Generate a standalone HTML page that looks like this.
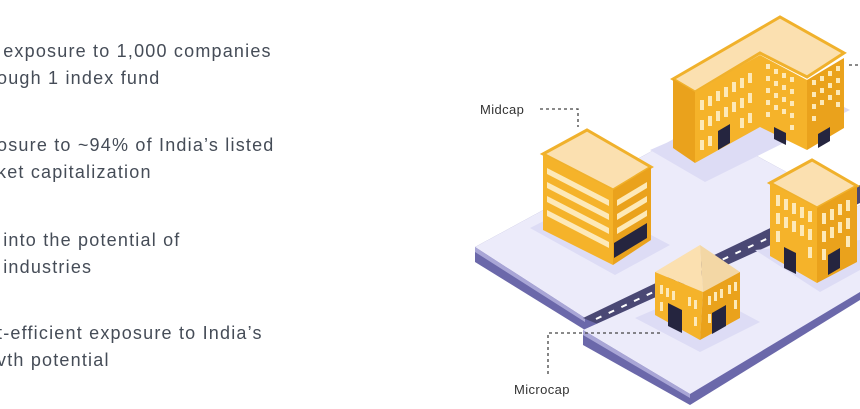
<!DOCTYPE html>
<html><head><meta charset="utf-8"><style>
html,body{margin:0;padding:0;background:#fff;width:860px;height:409px;overflow:hidden;position:relative}
.t{position:absolute;left:0;font-family:"Liberation Sans",sans-serif;font-size:18px;color:#454c57;line-height:27px;white-space:nowrap;letter-spacing:1.2px}
svg{position:absolute;left:0;top:0}
</style></head><body>
<div class="t" style="left:-3px;top:38px">&nbsp;exposure to 1,000 companies<br>ough 1 index fund</div>
<div class="t" style="left:-3px;top:132px">osure to ~94% of India’s listed<br>ket capitalization</div>
<div class="t" style="left:-3px;top:227px">&nbsp;into the potential of<br>&nbsp;industries</div>
<div class="t" style="left:-3px;top:320px">t-efficient exposure to India’s<br>vth potential</div>
<svg width="860" height="409" viewBox="0 0 860 409">
<polygon points="475,247 700,125 860,212 860,235 585,330 475,262" fill="#6b68aa"/>
<polygon points="475,247 700,125 860,212 860,222 585,318" fill="#ecebfa"/>
<polygon points="475,247 585,318 585,322 475,252" fill="#a9a6d6"/>
<polygon points="583,318 860,185 860,203 600,325" fill="#4a4874"/>
<g stroke="#fff" stroke-width="2" stroke-dasharray="6 8"><line x1="596" y1="319" x2="860" y2="195"/></g>
<polygon points="583,330 860,205 860,300 690,405 583,345" fill="#6b68aa"/>
<polygon points="583,330 860,205 860,292 690,394" fill="#ecebfa"/>
<polygon points="583,330 690,394 690,398 583,335" fill="#a9a6d6"/>
<polygon points="530,228 615,275 670,245 585,200" fill="#dddcf5"/>
<polygon points="650,150 705,182 850,110 800,85" fill="#dddcf5"/>
<polygon points="755,250 820,292 860,270 860,240" fill="#dddcf5"/>
<polygon points="635,318 700,352 760,322 700,290" fill="#dddcf5"/>
<polygon points="673,79 780,17 844,53 807,77 760,53 695,92" fill="#fbe0b0"/>
<polygon points="673,79 780,17 844,53 807,77 760,53 695,92" fill="none" stroke="#f0b12c" stroke-width="3"/>
<polygon points="673,79 695,92 695,163 673,148" fill="#eaa21c"/>
<polygon points="695,92 760,55 760,127 695,163" fill="#f5b32a"/>
<polygon points="760,55 807,80 807,150 760,127" fill="#f5b32a"/>
<polygon points="807,80 844,58 844,128 807,150" fill="#eaa21c"/>
<g fill="#fde9b8">
<rect x="700" y="100" width="4" height="10"/><rect x="708" y="96" width="4" height="10"/><rect x="716" y="91" width="4" height="10"/><rect x="724" y="87" width="4" height="10"/><rect x="732" y="82" width="4" height="10"/><rect x="740" y="78" width="4" height="10"/><rect x="748" y="73" width="4" height="10"/>
<rect x="700" y="120" width="4" height="10"/><rect x="708" y="116" width="4" height="10"/><rect x="716" y="111" width="4" height="10"/><rect x="724" y="107" width="4" height="10"/><rect x="732" y="102" width="4" height="10"/><rect x="740" y="98" width="4" height="10"/><rect x="748" y="93" width="4" height="10"/>
<rect x="700" y="140" width="4" height="10"/><rect x="708" y="136" width="4" height="10"/><rect x="740" y="118" width="4" height="10"/><rect x="748" y="113" width="4" height="10"/>
<rect x="766" y="64" width="4" height="5"/><rect x="774" y="69" width="4" height="5"/><rect x="782" y="73" width="4" height="5"/><rect x="790" y="77" width="4" height="5"/>
<rect x="766" y="76" width="4" height="5"/><rect x="774" y="81" width="4" height="5"/><rect x="782" y="85" width="4" height="5"/><rect x="790" y="89" width="4" height="5"/>
<rect x="766" y="88" width="4" height="5"/><rect x="774" y="93" width="4" height="5"/><rect x="782" y="97" width="4" height="5"/><rect x="790" y="101" width="4" height="5"/>
<rect x="766" y="100" width="4" height="5"/><rect x="774" y="105" width="4" height="5"/><rect x="782" y="109" width="4" height="5"/><rect x="790" y="113" width="4" height="5"/>
<rect x="766" y="112" width="4" height="5"/><rect x="790" y="125" width="4" height="5"/>
<rect x="812" y="80" width="4" height="5"/><rect x="820" y="76" width="4" height="5"/><rect x="828" y="71" width="4" height="5"/><rect x="836" y="66" width="4" height="5"/>
<rect x="812" y="92" width="4" height="5"/><rect x="820" y="88" width="4" height="5"/><rect x="828" y="83" width="4" height="5"/><rect x="836" y="78" width="4" height="5"/>
<rect x="812" y="104" width="4" height="5"/><rect x="820" y="100" width="4" height="5"/><rect x="828" y="95" width="4" height="5"/><rect x="836" y="90" width="4" height="5"/>
<rect x="812" y="116" width="4" height="5"/><rect x="836" y="102" width="4" height="5"/>
</g>
<polygon points="718,131 730,124 730,143 718,150" fill="#25253f"/>
<polygon points="774,127 786,133 786,145 774,139" fill="#25253f"/>
<polygon points="818,134 830,127 830,141 818,148" fill="#25253f"/>
<polygon points="543,154 587,130 651,167 613,190" fill="#fbe0b0" stroke="#f0b12c" stroke-width="3"/>
<polygon points="543,154 613,190 613,265 543,230" fill="#f5b32a"/>
<polygon points="613,190 651,167 651,240 613,265" fill="#eaa21c"/>
<g fill="#fde9b8">
<polygon points="547,168 609,200 609,206 547,174"/><polygon points="547,182 609,214 609,220 547,188"/><polygon points="547,196 609,228 609,234 547,202"/><polygon points="547,210 609,242 609,248 547,216"/>
<polygon points="617,200 647,182 647,188 617,206"/><polygon points="617,214 647,196 647,202 617,220"/><polygon points="617,228 647,210 647,216 617,234"/>
</g>
<polygon points="614,243 647,223 647,238 614,258" fill="#25253f"/>
<polygon points="770,183 812,160 857,186 817,208" fill="#fbe0b0" stroke="#f0b12c" stroke-width="3"/>
<polygon points="770,183 817,208 817,283 770,256" fill="#f5b32a"/>
<polygon points="817,208 857,186 857,262 817,283" fill="#eaa21c"/>
<g fill="#fde9b8">
<rect x="776" y="195" width="4" height="11"/><rect x="784" y="199" width="4" height="11"/><rect x="792" y="203" width="4" height="11"/><rect x="800" y="207" width="4" height="11"/><rect x="808" y="211" width="4" height="11"/>
<rect x="776" y="213" width="4" height="11"/><rect x="784" y="217" width="4" height="11"/><rect x="792" y="221" width="4" height="11"/><rect x="800" y="225" width="4" height="11"/><rect x="808" y="229" width="4" height="11"/>
<rect x="776" y="231" width="4" height="11"/><rect x="808" y="247" width="4" height="11"/>
<rect x="822" y="213" width="4" height="11"/><rect x="830" y="209" width="4" height="11"/><rect x="838" y="204" width="4" height="11"/><rect x="846" y="200" width="4" height="11"/>
<rect x="822" y="231" width="4" height="11"/><rect x="830" y="227" width="4" height="11"/><rect x="838" y="222" width="4" height="11"/><rect x="846" y="218" width="4" height="11"/>
<rect x="822" y="249" width="4" height="11"/><rect x="846" y="236" width="4" height="11"/>
</g>
<polygon points="784,247 796,253 796,274 784,268" fill="#25253f"/>
<polygon points="828,255 840,248 840,268 828,275" fill="#25253f"/>
<polygon points="655,272 700,245 703,292" fill="#fbe0b0"/>
<polygon points="700,245 740,272 703,292" fill="#f3d7a5"/>
<polygon points="655,272 703,292 700,340 655,315" fill="#f5b32a"/>
<polygon points="703,292 740,272 740,318 700,340" fill="#eaa21c"/>
<g fill="#fde9b8">
<rect x="660" y="285" width="3" height="9"/><rect x="666" y="288" width="3" height="9"/><rect x="672" y="291" width="3" height="9"/><rect x="688" y="297" width="3" height="9"/><rect x="694" y="300" width="3" height="9"/>
<rect x="660" y="302" width="3" height="9"/><rect x="694" y="317" width="3" height="9"/>
<rect x="708" y="296" width="3" height="9"/><rect x="714" y="292" width="3" height="9"/><rect x="720" y="289" width="3" height="9"/><rect x="728" y="285" width="3" height="9"/><rect x="734" y="282" width="3" height="9"/>
<rect x="708" y="314" width="3" height="9"/><rect x="734" y="300" width="3" height="9"/>
</g>
<polygon points="668,303 682,310 682,333 668,326" fill="#25253f"/>
<polygon points="712,313 726,305 726,326 712,334" fill="#25253f"/>
<g fill="none" stroke="#444" stroke-width="1.3" stroke-dasharray="3 3">
<polyline points="540,109 578,109 578,127"/>
<polyline points="660,333 548,333 548,375"/>
<line x1="849" y1="65" x2="860" y2="65"/>
</g>
<text x="480" y="114" font-family="Liberation Sans,sans-serif" font-size="13" fill="#333" letter-spacing="0.4">Midcap</text>
<text x="514" y="394" font-family="Liberation Sans,sans-serif" font-size="13" fill="#333" letter-spacing="0.4">Microcap</text>
</svg>
</body></html>
